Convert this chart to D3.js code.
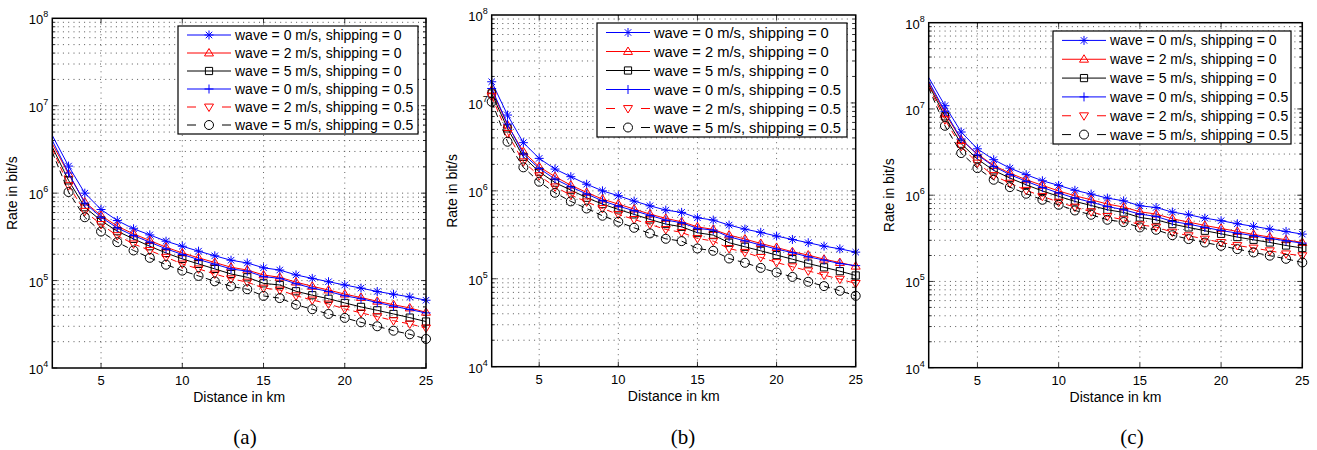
<!DOCTYPE html>
<html>
<head>
<meta charset="utf-8">
<script src="https://cdn.jsdelivr.net/npm/d3@7"></script>
<style>
  body { margin: 0; background: #fff; }
  svg { font-family: "Liberation Sans", Arial, Helvetica, sans-serif; }
</style>
</head>
<body>
<svg id="chart" width="1317" height="450"></svg>
<script>
// x values (km) and axis ticks
var distanceKm = [2,3,4,5,6,7,8,9,10,11,12,13,14,15,16,17,18,19,20,21,22,23,24,25];
var xTicks = [5,10,15,20,25];
var yDecades = [4,5,6,7,8];
var legendLabels = [
  'wave = 0 m/s, shipping = 0',
  'wave = 2 m/s, shipping = 0',
  'wave = 5 m/s, shipping = 0',
  'wave = 0 m/s, shipping = 0.5',
  'wave = 2 m/s, shipping = 0.5',
  'wave = 5 m/s, shipping = 0.5'
];
var captions = ['(a)', '(b)', '(c)'];

// panel (a) rates in bit/s
var a_w0s0 = [4.57e6,2.04e6,1.0e6,6.5e5,4.86e5,3.91e5,3.33e5,2.82e5,2.47e5,2.17e5,1.92e5,1.71e5,1.59e5,1.40e5,1.32e5,1.16e5,1.06e5,9.7e4,8.9e4,8.2e4,7.5e4,6.98e4,6.5e4,5.96e4];
var a_w2s0 = [3.67e6,1.66e6,7.9e5,5.55e5,4.19e5,3.42e5,2.87e5,2.41e5,2.07e5,1.82e5,1.61e5,1.42e5,1.32e5,1.16e5,1.09e5,9.6e4,8.6e4,7.8e4,7.0e4,6.4e4,5.8e4,5.3e4,4.86e4,4.34e4];
var a_w5s0 = [3.36e6,1.40e6,6.9e5,4.86e5,3.67e5,3.0e5,2.47e5,2.07e5,1.77e5,1.55e5,1.36e5,1.19e5,1.09e5,9.3e4,8.9e4,7.55e4,6.8e4,6.2e4,5.55e4,5.0e4,4.57e4,4.15e4,3.77e4,3.4e4];
var a_w0s5 = [4.0e6,1.7e6,7.7e5,5.3e5,4.0e5,3.27e5,2.75e5,2.31e5,1.99e5,1.74e5,1.54e5,1.36e5,1.28e5,1.11e5,1.06e5,9.2e4,8.2e4,7.5e4,6.7e4,6.2e4,5.6e4,5.1e4,4.66e4,4.27e4];
var a_w2s5 = [3.22e6,1.22e6,6.2e5,4.38e5,3.27e5,2.63e5,2.21e5,1.85e5,1.55e5,1.36e5,1.19e5,1.05e5,9.6e4,8.2e4,7.8e4,6.7e4,6.0e4,5.4e4,4.74e4,4.27e4,3.87e4,3.48e4,3.19e4,2.87e4];
var a_w5s5 = [2.95e6,1.03e6,5.3e5,3.64e5,2.75e5,2.21e5,1.82e5,1.52e5,1.30e5,1.13e5,9.8e4,8.6e4,7.96e4,6.67e4,6.3e4,5.3e4,4.7e4,4.15e4,3.74e4,3.33e4,3.0e4,2.67e4,2.43e4,2.15e4];

// panel (b)
var b_w0s0 = [1.74e7,7.28e6,3.53e6,2.34e6,1.77e6,1.45e6,1.19e6,1.0e6,8.8e5,7.65e5,6.76e5,6.04e5,5.69e5,4.94e5,4.65e5,4.08e5,3.67e5,3.37e5,3.06e5,2.8e5,2.57e5,2.35e5,2.19e5,2.01e5];
var b_w2s0 = [1.40e7,5.6e6,2.79e6,1.88e6,1.45e6,1.16e6,9.6e5,8.05e5,7.07e5,6.2e5,5.44e5,4.86e5,4.45e5,3.9e5,3.64e5,3.14e5,2.83e5,2.52e5,2.27e5,2.03e5,1.86e5,1.67e5,1.53e5,1.39e5];
var b_w5s0 = [1.28e7,5.13e6,2.44e6,1.65e6,1.24e6,1.02e6,8.35e5,7.07e5,6.15e5,5.4e5,4.73e5,4.19e5,3.9e5,3.34e5,3.14e5,2.57e5,2.31e5,2.08e5,1.86e5,1.67e5,1.49e5,1.35e5,1.22e5,1.09e5];
var b_w0s5 = [1.46e7,5.75e6,2.62e6,1.8e6,1.36e6,1.11e6,9.2e5,7.7e5,6.7e5,5.94e5,5.26e5,4.65e5,4.34e5,3.74e5,3.58e5,3.0e5,2.7e5,2.42e5,2.18e5,1.98e5,1.78e5,1.63e5,1.49e5,1.41e5];
var b_w2s5 = [1.18e7,4.5e6,2.14e6,1.49e6,1.11e6,8.95e5,7.5e5,6.3e5,5.4e5,4.73e5,4.15e5,3.64e5,3.37e5,2.88e5,2.68e5,2.21e5,2.0e5,1.75e5,1.53e5,1.37e5,1.23e5,1.1e5,9.9e4,8.85e4];
var b_w5s5 = [1.03e7,3.62e6,1.85e6,1.27e6,9.5e5,7.59e5,6.3e5,5.21e5,4.45e5,3.8e5,3.28e5,2.85e5,2.68e5,2.21e5,2.08e5,1.7e5,1.52e5,1.33e5,1.18e5,1.05e5,9.25e4,8.25e4,7.3e4,6.4e4];

// panel (c)
var c_w0s0 = [2.32e7,1.09e7,5.4e6,3.45e6,2.58e6,2.06e6,1.73e6,1.47e6,1.30e6,1.14e6,1.03e6,9.25e5,8.6e5,7.54e5,7.2e5,6.37e5,5.93e5,5.42e5,5.06e5,4.67e5,4.35e5,4.05e5,3.8e5,3.54e5];
var c_w2s0 = [2.0e7,8.95e6,4.4e6,3.0e6,2.21e6,1.8e6,1.51e6,1.3e6,1.12e6,9.85e5,8.85e5,7.9e5,7.28e5,6.43e5,6.04e5,5.33e5,4.88e5,4.46e5,4.12e5,3.8e5,3.51e5,3.27e5,3.04e5,2.83e5];
var c_w5s0 = [1.91e7,8.2e6,3.95e6,2.62e6,1.94e6,1.58e6,1.32e6,1.12e6,9.7e5,8.47e5,7.6e5,6.78e5,6.31e5,5.52e5,5.19e5,4.62e5,4.23e5,3.87e5,3.57e5,3.27e5,3.04e5,2.83e5,2.61e5,2.44e5];
var c_w0s5 = [2.09e7,9.4e6,4.48e6,2.94e6,2.16e6,1.73e6,1.45e6,1.23e6,1.06e6,9.25e5,8.3e5,7.4e5,6.78e5,6.04e5,5.67e5,4.96e5,4.62e5,4.23e5,3.9e5,3.63e5,3.39e5,3.15e5,2.96e5,2.78e5];
var c_w2s5 = [1.82e7,7.5e6,3.68e6,2.36e6,1.69e6,1.38e6,1.14e6,9.7e5,8.3e5,7.28e5,6.43e5,5.67e5,5.19e5,4.54e5,4.27e5,3.73e5,3.39e5,3.1e5,2.83e5,2.61e5,2.44e5,2.27e5,2.09e5,1.99e5];
var c_w5s5 = [1.75e7,6.38e6,3.08e6,2.06e6,1.51e6,1.24e6,1.04e6,8.85e5,7.74e5,6.65e5,5.93e5,5.19e5,4.88e5,4.23e5,3.97e5,3.44e5,3.1e5,2.83e5,2.59e5,2.37e5,2.17e5,1.99e5,1.83e5,1.66e5];

var seriesStyle = [
  {color: '#0000ff', dash: null,  marker: 'star'},
  {color: '#ff0000', dash: null,  marker: 'triUp'},
  {color: '#000000', dash: null,  marker: 'square'},
  {color: '#0000ff', dash: null,  marker: 'plus'},
  {color: '#ff0000', dash: '6,4', marker: 'triDown'},
  {color: '#000000', dash: '6,4', marker: 'circle'}
];

var panels = [
  {series: [a_w0s0,a_w2s0,a_w5s0,a_w0s5,a_w2s5,a_w5s5], l: 52.3, r: 426, t: 18.3, b: 368, firstMarker: 3,
   leg: {x: 178, y: 26, w: 240, h: 108, fs: 14}, capX: 245},
  {series: [b_w0s0,b_w2s0,b_w5s0,b_w0s5,b_w2s5,b_w5s5], l: 491.7, r: 855.7, t: 15, b: 366.7, firstMarker: 2,
   leg: {x: 597, y: 23, w: 250, h: 114, fs: 14.7}, capX: 683},
  {series: [c_w0s0,c_w2s0,c_w5s0,c_w0s5,c_w2s5,c_w5s5], l: 928.7, r: 1302.3, t: 22.7, b: 367.7, firstMarker: 3,
   leg: {x: 1053, y: 31, w: 238, h: 113, fs: 14}, capX: 1132}
];

function markerPath(type) {
  var s = 4.5;
  switch (type) {
    case 'star':
      var d = s * 0.72;
      return 'M' + (-s) + ',0H' + s + 'M0,' + (-s) + 'V' + s +
        'M' + (-d) + ',' + (-d) + 'L' + d + ',' + d + 'M' + (-d) + ',' + d + 'L' + d + ',' + (-d);
    case 'plus':
      return 'M' + (-s) + ',0H' + s + 'M0,' + (-s) + 'V' + s;
    case 'triUp':
      return 'M0,' + (-s) + 'L' + s + ',' + (s * 0.65) + 'L' + (-s) + ',' + (s * 0.65) + 'Z';
    case 'triDown':
      return 'M0,' + s + 'L' + s + ',' + (-s * 0.65) + 'L' + (-s) + ',' + (-s * 0.65) + 'Z';
    case 'square':
      var q = 3.6;
      return 'M' + (-q) + ',' + (-q) + 'H' + q + 'V' + q + 'H' + (-q) + 'Z';
    case 'circle':
      return 'M' + s + ',0A' + s + ',' + s + ' 0 1,1 ' + (-s) + ',0A' + s + ',' + s + ' 0 1,1 ' + s + ',0Z';
  }
}

var svg = d3.select('#chart');

panels.forEach(function(p, pi) {
  var x = d3.scaleLinear().domain([2, 25]).range([p.l, p.r]);
  var y = d3.scaleLog().domain([1e4, 1e8]).range([p.b, p.t]);
  var g = svg.append('g');

  var clipId = 'clip' + pi;
  svg.append('clipPath').attr('id', clipId).append('rect')
    .attr('x', p.l).attr('y', p.t).attr('width', p.r - p.l).attr('height', p.b - p.t);

  // grid: every log step horizontally, major km vertically
  var yGrid = [];
  yDecades.forEach(function(e) {
    if (e < 8) for (var m = 1; m < 10; m++) yGrid.push(m * Math.pow(10, e));
  });
  g.selectAll('.hgrid').data(yGrid.filter(function(v) { return v > 1e4; })).enter().append('line')
    .attr('x1', p.l).attr('x2', p.r)
    .attr('y1', function(d) { return y(d); }).attr('y2', function(d) { return y(d); })
    .attr('stroke', '#444').attr('stroke-width', 0.9).attr('stroke-dasharray', '1,4.3');
  g.selectAll('.vgrid').data(xTicks.slice(0, -1)).enter().append('line')
    .attr('y1', p.t).attr('y2', p.b)
    .attr('x1', function(d) { return x(d); }).attr('x2', function(d) { return x(d); })
    .attr('stroke', '#555').attr('stroke-width', 0.9).attr('stroke-dasharray', '1,4.3');

  // tick marks (inward, on all four sides)
  var tk = g.append('g').attr('stroke', '#000').attr('stroke-width', 0.8);
  xTicks.forEach(function(v) {
    tk.append('line').attr('x1', x(v)).attr('x2', x(v)).attr('y1', p.b).attr('y2', p.b - 5);
    tk.append('line').attr('x1', x(v)).attr('x2', x(v)).attr('y1', p.t).attr('y2', p.t + 5);
  });
  yGrid.forEach(function(v) {
    var len = (Math.log10(v) % 1 === 0) ? 5 : 3;
    tk.append('line').attr('x1', p.l).attr('x2', p.l + len).attr('y1', y(v)).attr('y2', y(v));
    tk.append('line').attr('x1', p.r).attr('x2', p.r - len).attr('y1', y(v)).attr('y2', y(v));
  });

  // series lines
  var line = d3.line().x(function(d, i) { return x(distanceKm[i]); }).y(function(d) { return y(d); });
  p.series.forEach(function(vals, si) {
    var st = seriesStyle[si];
    g.append('path').datum(vals)
      .attr('clip-path', 'url(#' + clipId + ')')
      .attr('d', line)
      .attr('fill', 'none')
      .attr('stroke', st.color)
      .attr('stroke-width', 1)
      .attr('stroke-dasharray', st.dash);
    g.selectAll('.m' + si).data(vals.map(function(v, i) { return {x: distanceKm[i], v: v}; })
        .filter(function(d) { return d.x >= p.firstMarker; }))
      .enter().append('path')
      .attr('transform', function(d) { return 'translate(' + x(d.x) + ',' + y(d.v) + ')'; })
      .attr('d', markerPath(st.marker))
      .attr('fill', 'none')
      .attr('stroke', st.color)
      .attr('stroke-width', 1);
  });

  // axes box
  g.append('rect').attr('x', p.l).attr('y', p.t).attr('width', p.r - p.l).attr('height', p.b - p.t)
    .attr('fill', 'none').attr('stroke', '#000').attr('stroke-width', 1.5);

  // tick labels
  g.selectAll('.xl').data(xTicks).enter().append('text')
    .attr('x', function(d) { return x(d); }).attr('y', p.b + 17)
    .attr('text-anchor', 'middle').attr('font-size', 13).text(function(d) { return d; });
  yDecades.forEach(function(e) {
    var t = g.append('text').attr('x', p.l - 4).attr('y', y(Math.pow(10, e)) + 6)
      .attr('text-anchor', 'end').attr('font-size', 13);
    t.append('tspan').text('10');
    t.append('tspan').attr('dy', -7).attr('font-size', 9).text(e);
  });

  // axis labels
  g.append('text').attr('x', (p.l + p.r) / 2).attr('y', p.b + 34)
    .attr('text-anchor', 'middle').attr('font-size', 14).text('Distance in km');
  g.append('text').attr('transform', 'translate(' + (p.l - 35) + ',' + ((p.t + p.b) / 2) + ') rotate(-90)')
    .attr('text-anchor', 'middle').attr('font-size', 14).text('Rate in bit/s');

  // caption
  g.append('text').attr('x', p.capX).attr('y', 444).attr('text-anchor', 'middle')
    .attr('font-family', '"Liberation Serif", "Times New Roman", serif').attr('font-size', 21)
    .text(captions[pi]);

  // legend
  var L = p.leg, rowH = L.h / 6;
  var lg = g.append('g');
  lg.append('rect').attr('x', L.x).attr('y', L.y).attr('width', L.w).attr('height', L.h)
    .attr('fill', '#fff').attr('stroke', '#000').attr('stroke-width', 1.2);
  legendLabels.forEach(function(lab, i) {
    var st = seriesStyle[i], cy = L.y + rowH * (i + 0.5);
    lg.append('line').attr('x1', L.x + 9).attr('x2', L.x + 53).attr('y1', cy).attr('y2', cy)
      .attr('stroke', st.color).attr('stroke-width', 1).attr('stroke-dasharray', st.dash ? '9,26,9' : null);
    lg.append('path').attr('transform', 'translate(' + (L.x + 31) + ',' + cy + ')')
      .attr('d', markerPath(st.marker)).attr('fill', 'none').attr('stroke', st.color);
    lg.append('text').attr('x', L.x + 57).attr('y', cy).attr('dy', '0.36em')
      .attr('font-size', L.fs).text(lab);
  });
});
</script>
</body>
</html>
